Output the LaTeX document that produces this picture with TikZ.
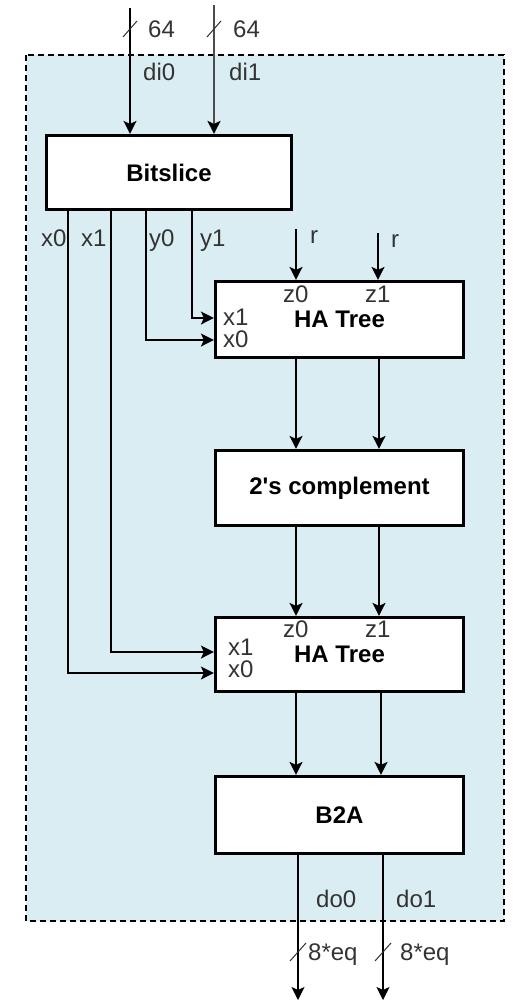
\documentclass[tikz,border=0pt]{standalone}
\usepackage{fontspec}
\setmainfont{Liberation Sans}
\usetikzlibrary{arrows.meta}
\definecolor{panelblue}{HTML}{DAEDF3}
\newcommand\diagfont{\fontsize{24}{28}\selectfont}
\tikzset{
  block/.style={draw, line width=3.2pt, fill=white, minimum width=248pt, font=\diagfont\bfseries},
  wire/.style={line width=1.5pt, -{Stealth[length=13pt, width=13pt, inset=3pt]}},
  bus/.style={line width=1pt, black!80},
  lbl/.style={inner sep=0pt, anchor=base west, text=black!80, font=\diagfont},
}
\begin{document}
\begin{tikzpicture}[x=1pt, y=-1pt]
  \useasboundingbox (0,0) rectangle (513,1002);
  \draw[dashed, dash pattern=on 6pt off 4pt, line width=1.3pt, fill=panelblue] (26,55) rectangle (504,921);
  \draw
    (169,172.5) node[block, minimum width=245pt, minimum height=74pt] (bits){Bitslice}
    (339.5,319.5) node[block, minimum height=76pt] (ha1){HA Tree}
    (339.5,488) node[block, minimum height=75pt] (twos){2\textquotesingle s complement}
    (339.5,654.5) node[block, minimum height=74pt] (ha2){HA Tree}
    (339.5,815) node[block, minimum height=77pt] (b2a){B2A};
  % ends and bends of the wires
  \coordinate (di0src) at (130,8);
  \coordinate (di1src) at (214,5);
  \coordinate (r0src) at (296,229);
  \coordinate (r1src) at (378,233);
  \coordinate (colA) at (296,0);
  \coordinate (colB) at (379,0);
  \coordinate (x0turn) at (68,673);
  \coordinate (x1turn) at (111,652);
  \coordinate (y0turn) at (146,340);
  \coordinate (y1turn) at (192,318);
  \coordinate (do0end) at (298,1000);
  \coordinate (do1end) at (383,1000);
  \begin{scope}[wire]
    \draw (di0src) -- (bits.north -| di0src);
    \draw[draw=black!70, line width=2.2pt, -{Stealth[length=13pt, width=13pt, inset=3pt, black]}] (di1src) -- (bits.north -| di1src);
    \draw (bits.south -| y1turn) -- (y1turn) -- (ha1.west |- y1turn);
    \draw (bits.south -| y0turn) -- (y0turn) -- (ha1.west |- y0turn);
    \draw (bits.south -| x1turn) -- (x1turn) -- (ha2.west |- x1turn);
    \draw (bits.south -| x0turn) -- (x0turn) -- (ha2.west |- x0turn);
    \draw (r0src) -- (ha1.north -| r0src);
    \draw (r1src) -- (ha1.north -| r1src);
    \draw (ha1.south -| colA) -- (twos.north -| colA);
    \draw (ha1.south -| colB) -- (twos.north -| colB);
    \draw (twos.south -| colA) -- (ha2.north -| colA);
    \draw (twos.south -| colB) -- (ha2.north -| colB);
    \draw (ha2.south -| colA) -- (b2a.north -| colA);
    \draw (ha2.south -| 381,0) -- (b2a.north -| 381,0);
    \draw (b2a.south -| do0end) -- (do0end);
    \draw (b2a.south -| do1end) -- (do1end);
  \end{scope}
  % bus width marks
  \draw[bus] (di0src |- 0,29) +(-7,8) -- +(7,-8);
  \draw[bus] (di1src |- 0,29) +(-7,8) -- +(7,-8);
  \draw[bus] (do0end |- 0,952) +(-8,9) -- +(8,-9);
  \draw[bus] (do1end |- 0,952) +(-8,9) -- +(8,-9);
  % labels
  \node[lbl] (w0) at (148,37) {64};
  \node[lbl] (w1) at (233,37) {64};
  \node[lbl] (di0) at (143,80) {di0};
  \node[lbl] (di1) at (229,80) {di1};
  \node[lbl] (x0) at (41,246) {x0};
  \node[lbl] (x1) at (81,246) {x1};
  \node[lbl] (y0) at (149,246) {y0};
  \node[lbl] (y1) at (200,246) {y1};
  \node[lbl] (r0) at (310,243) {r};
  \node[lbl] (r1) at (391,247) {r};
  \node[lbl] (z0a) at (283,302) {z0};
  \node[lbl] (z1a) at (365,302) {z1};
  \node[lbl] (x1a) at (223,325) {x1};
  \node[lbl] (x0a) at (223,347) {x0};
  \node[lbl] (z0b) at (283,637) {z0};
  \node[lbl] (z1b) at (365,637) {z1};
  \node[lbl] (x1b) at (228,655) {x1};
  \node[lbl] (x0b) at (228,677) {x0};
  \node[lbl] (do0) at (316,907) {do0};
  \node[lbl] (do1) at (396,907) {do1};
  \node[lbl] (eq0) at (308,960) {8*eq};
  \node[lbl] (eq1) at (400,960) {8*eq};
\end{tikzpicture}
\end{document}
